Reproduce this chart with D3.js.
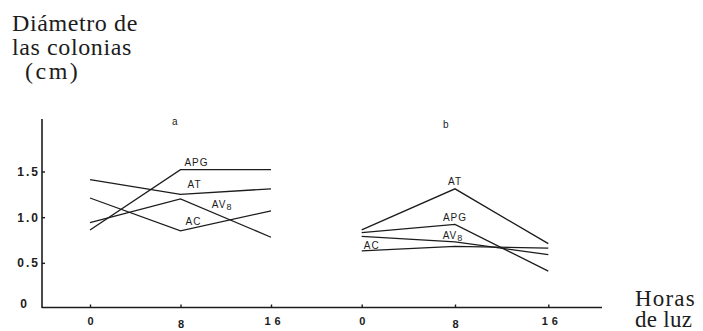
<!DOCTYPE html>
<html>
<head>
<meta charset="utf-8">
<script src="https://cdn.jsdelivr.net/npm/d3@7"></script>
<style>
  body { margin: 0; background: #fff; }
  svg { display: block; }
</style>
</head>
<body>
<svg id="chart" width="703" height="331"></svg>
<script>
// ---- data ----
const hours = [0, 8, 16];
const yTicks = [0, 0.5, 1.0, 1.5];
const yTickLabels = ["0", "0.5", "1.0", "1.5"];
const xTickLabels = ["0", "8", "16"];
const panelNames = ["a", "b"];
const seriesNames = ["APG", "AT", "AV8", "AC"];
// panel a
const aAPG = [0.86, 1.52, 1.52];
const aAT  = [1.41, 1.25, 1.31];
const aAV8 = [0.94, 1.20, 0.78];
const aAC  = [1.21, 0.85, 1.07];
// panel b
const bAPG = [0.83, 0.92, 0.41];
const bAT  = [0.86, 1.31, 0.71];
const bAV8 = [0.79, 0.73, 0.59];
const bAC  = [0.63, 0.68, 0.66];
const yTitle = ["Diámetro de", "las colonias", "(cm)"];
const xTitle = ["Horas", "de luz"];

const SERIF = '"Liberation Serif"';
const SANS = '"Liberation Sans"';

const svg = d3.select("#chart");
const ink = "#1c1c1c";

const y = d3.scaleLinear().domain([0, 1.5]).range([308.5, 171.5]);
const xa = d3.scaleLinear().domain([0, 16]).range([90, 271]);
const xb = d3.scaleLinear().domain([0, 16]).range([361.7, 548.3]);

function serifText(x, yy, str, size, spacing) {
  return svg.append("text").attr("x", x).attr("y", yy)
    .style("font-family", SERIF).style("font-size", size + "px")
    .style("letter-spacing", spacing + "px").attr("fill", ink).text(str);
}
// Y title
serifText(12, 31, yTitle[0], 24, 0.6);
serifText(12, 55, yTitle[1], 24, 0.6);
serifText(25, 79, yTitle[2], 24, 2.5);
// X title
serifText(635, 306, xTitle[0], 23, 1.2);
serifText(635, 327, xTitle[1], 23, 0.3);

// Y axis
const yAxis = d3.axisLeft(y).tickValues(yTicks)
  .tickFormat((d, i) => yTickLabels[i]).tickSizeInner(-3).tickSizeOuter(0).tickPadding(6);
const gy = svg.append("g").attr("transform", "translate(42,0)").call(yAxis);
gy.select(".domain").remove();
gy.selectAll(".tick line").attr("stroke", ink).attr("stroke-width", 1.4);
gy.selectAll(".tick").filter(d => d === 0).select("line").remove();
gy.selectAll(".tick text").style("font-family", SANS).style("letter-spacing", "2px")
  .attr("font-size", 12).attr("font-weight", "bold").attr("fill", ink).attr("x", -2);
gy.selectAll(".tick").filter(d => d === 0).select("text").attr("dy", "-0.1em").attr("x", -13);
// y axis line
svg.append("line").attr("x1", 42).attr("x2", 42).attr("y1", 119).attr("y2", 308)
  .attr("stroke", ink).attr("stroke-width", 1.6);
// x axis line
svg.append("line").attr("x1", 42).attr("x2", 602).attr("y1", 307.5).attr("y2", 307.5)
  .attr("stroke", ink).attr("stroke-width", 1.6);

function drawXAxis(scale) {
  const ax = d3.axisBottom(scale).tickValues(hours)
    .tickFormat((d, i) => xTickLabels[i]).tickSizeInner(-3).tickSizeOuter(0).tickPadding(10);
  const g = svg.append("g").attr("transform", "translate(0,307.5)").call(ax);
  g.select(".domain").remove();
  g.selectAll(".tick line").attr("stroke", ink).attr("stroke-width", 1.4);
  g.selectAll(".tick text").style("font-family", SANS)
    .attr("font-size", 11).attr("font-weight", "bold").attr("fill", ink);
  g.selectAll(".tick").filter(d => d === 8).select("text").attr("dy", "0.95em");
  g.selectAll(".tick").filter(d => d === 16).select("text")
    .style("letter-spacing", "4px").attr("dx", 3);
  return g;
}
drawXAxis(xa);
drawXAxis(xb);

// panel labels
svg.append("text").style("font-family", SANS).attr("x", xa(7.5)).attr("y", 125)
  .attr("font-size", 10).attr("fill", ink).attr("text-anchor", "middle").text(panelNames[0]);
svg.append("text").style("font-family", SANS).attr("x", xb(7.2)).attr("y", 128)
  .attr("font-size", 10).attr("fill", ink).attr("text-anchor", "middle").text(panelNames[1]);

// lines
function drawLines(scale, list) {
  const line = d3.line().x((d, i) => scale(hours[i])).y(d => y(d));
  svg.append("g").selectAll("path").data(list).join("path")
    .attr("d", d => line(d)).attr("fill", "none").attr("stroke", ink)
    .attr("stroke-width", 1.3).attr("stroke-linejoin", "miter");
}
drawLines(xa, [aAPG, aAT, aAV8, aAC]);
drawLines(xb, [bAPG, bAT, bAV8, bAC]);

// series labels
function label(x, yy, name) {
  const t = svg.append("text").style("font-family", SANS).attr("x", x).attr("y", yy)
    .attr("font-size", 10).attr("fill", ink).attr("letter-spacing", 1).attr("text-anchor", "middle");
  if (name === "AV8") {
    t.append("tspan").text("AV");
    t.append("tspan").attr("dy", 2).attr("font-size", 9).text("8");
  } else {
    t.text(name);
  }
}
// panel a labels
label(xa(8) + 16, y(1.52) - 4, seriesNames[0]);
label(xa(8) + 14, y(1.31) - 1, seriesNames[1]);
label(xa(11.5) + 2, y(1.09) - 1, seriesNames[2]);
label(xa(8) + 13, y(0.94) + 2, seriesNames[3]);
// panel b labels
label(xb(8), y(0.92) - 3, seriesNames[0]);
label(xb(8), y(1.31) - 4, seriesNames[1]);
label(xb(8) - 2, y(0.73) - 3, seriesNames[2]);
label(xb(0) + 10, y(0.63) - 2, seriesNames[3]);
</script>
</body>
</html>
